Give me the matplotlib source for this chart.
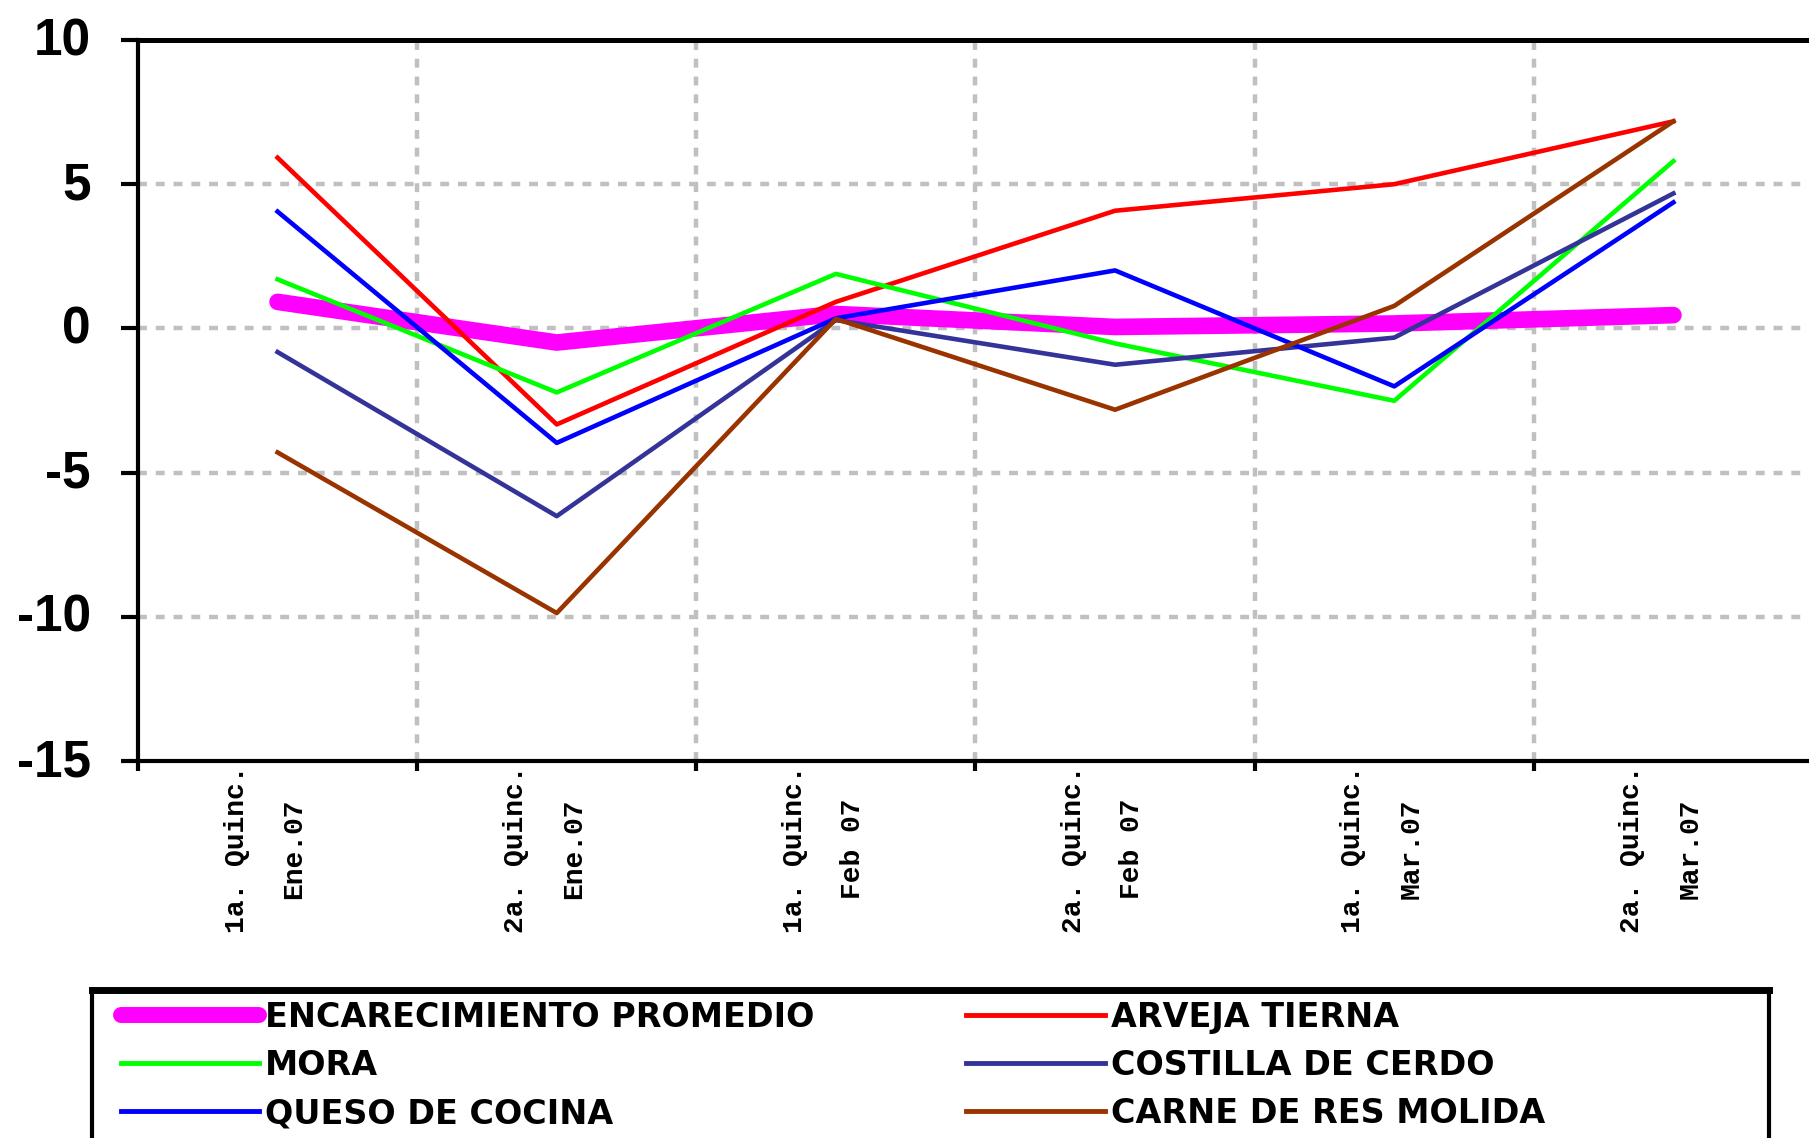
import matplotlib.pyplot as plt
import matplotlib.transforms as mtransforms
from matplotlib.patches import Rectangle
from matplotlib.lines import Line2D
import numpy as np

# ---------------------------------------------------------------- data
periods = ["1a. Quinc.\nEne.07", "2a. Quinc.\nEne.07", "1a. Quinc.\nFeb 07",
           "2a. Quinc.\nFeb 07", "1a. Quinc.\nMar.07", "2a. Quinc.\nMar.07"]

promedio = [0.92, -0.49, 0.50, 0.05, 0.17, 0.46]
arveja = [5.92, -3.33, 0.92, 4.08, 5.00, 7.18]
mora = [1.70, -2.22, 1.89, -0.52, -2.51, 5.80]
queso = [4.05, -3.97, 0.35, 2.01, -2.01, 4.37]
costilla = [-0.82, -6.51, 0.29, -1.26, -0.32, 4.68]
carne = [-4.30, -9.87, 0.33, -2.82, 0.78, 7.18]

series_names = ["ENCARECIMIENTO PROMEDIO", "ARVEJA TIERNA", "MORA",
                "COSTILLA DE CERDO", "QUESO DE COCINA", "CARNE DE RES MOLIDA"]

y_ticks = [10, 5, 0, -5, -10, -15]

# ---------------------------------------------------------------- figure
W, H = 1809, 1138
fig = plt.figure(figsize=(W / 100, H / 100), dpi=100)
ax = fig.add_axes([138 / W, 1 - 761 / H, (1813 - 138) / W, (761 - 40) / H])

x = np.arange(len(periods)) + 0.5

ax.plot(x, promedio, color='#ff00ff', lw=12, solid_capstyle='round',
        solid_joinstyle='round', zorder=3)
ax.plot(x, arveja, color='#ff0000', lw=3.3, zorder=4)
ax.plot(x, mora, color='#00ff00', lw=3.3, zorder=4)
ax.plot(x, costilla, color='#333399', lw=3.3, zorder=4)
ax.plot(x, queso, color='#0000ff', lw=3.3, zorder=4)
ax.plot(x, carne, color='#993300', lw=3.3, zorder=4)

ax.set_xlim(0, len(periods))
ax.set_ylim(-15, 10)

# grid
grid_kw = dict(color='#c0c0c0', lw=3.2, dashes=(2, 2), zorder=1)
for gy in [5, 0, -5, -10]:
    ax.axhline(gy, **grid_kw)
for gx in range(1, len(periods)):
    ax.axvline(gx, **grid_kw)

# spines
for side in ['left', 'bottom']:
    ax.spines[side].set_linewidth(3)
ax.spines['top'].set_linewidth(3.6)
ax.spines['right'].set_visible(False)

# y axis
ax.set_yticks(y_ticks)
ax.set_yticklabels([str(v) for v in y_ticks], fontsize=37, fontweight='bold',
                   family='Liberation Sans')
ax.tick_params(axis='y', direction='out', length=12, width=3, pad=22)
up = mtransforms.ScaledTranslation(0, 4 / 100, fig.dpi_scale_trans)
for lab in ax.get_yticklabels():
    lab.set_transform(lab.get_transform() + up)

# x axis: ticks at boundaries, labels at category centres
ax.set_xticks(range(0, len(periods) + 1))
ax.set_xticklabels([])
ax.tick_params(axis='x', which='major', direction='out', length=7, width=3)
ax.set_xticks(x, minor=True)
ax.set_xticklabels(periods, minor=True, rotation=90, fontsize=20.2,
                   family='Liberation Mono', fontweight='bold',
                   ha='center', va='top', multialignment='center',
                   linespacing=2.6)
ax.tick_params(axis='x', which='minor', length=0, pad=3)
shift = mtransforms.ScaledTranslation(-12 / 100, 0, fig.dpi_scale_trans)
for lab in ax.get_xticklabels(minor=True):
    lab.set_transform(lab.get_transform() + shift)

# ---------------------------------------------------------------- legend
handles = [
    Line2D([], [], color='#ff00ff', lw=11.5, solid_capstyle='round'),
    Line2D([], [], color='#ff0000', lw=3.5),
    Line2D([], [], color='#00ff00', lw=3.5),
    Line2D([], [], color='#333399', lw=3.5),
    Line2D([], [], color='#0000ff', lw=3.5),
    Line2D([], [], color='#993300', lw=3.5),
]
# order so that ncol=2 fills row-wise like the reference
order = [0, 2, 4, 1, 3, 5]
leg = fig.legend([handles[i] for i in order], [series_names[i] for i in order],
                 loc='upper left', bbox_to_anchor=(121 / W, 1 - 1001 / H),
                 ncol=2, frameon=False, borderpad=0, borderaxespad=0,
                 handlelength=4.15, handletextpad=0.18, columnspacing=4.55,
                 labelspacing=0.45,
                 prop=dict(family='DejaVu Sans', weight='bold', size=24))

# legend box (runs off the bottom of the picture like the reference)
fig.patches.append(Rectangle((92 / W, -0.05), (1769 - 92) / W, (0.05 + 1 - 990 / H),
                             transform=fig.transFigure, fill=False,
                             edgecolor='black', lw=3))
fig.lines.append(Line2D([92 / W, 1769 / W], [1 - 990 / H, 1 - 990 / H],
                        transform=fig.transFigure, color='black', lw=5))

fig.savefig('out.png', dpi=100)
